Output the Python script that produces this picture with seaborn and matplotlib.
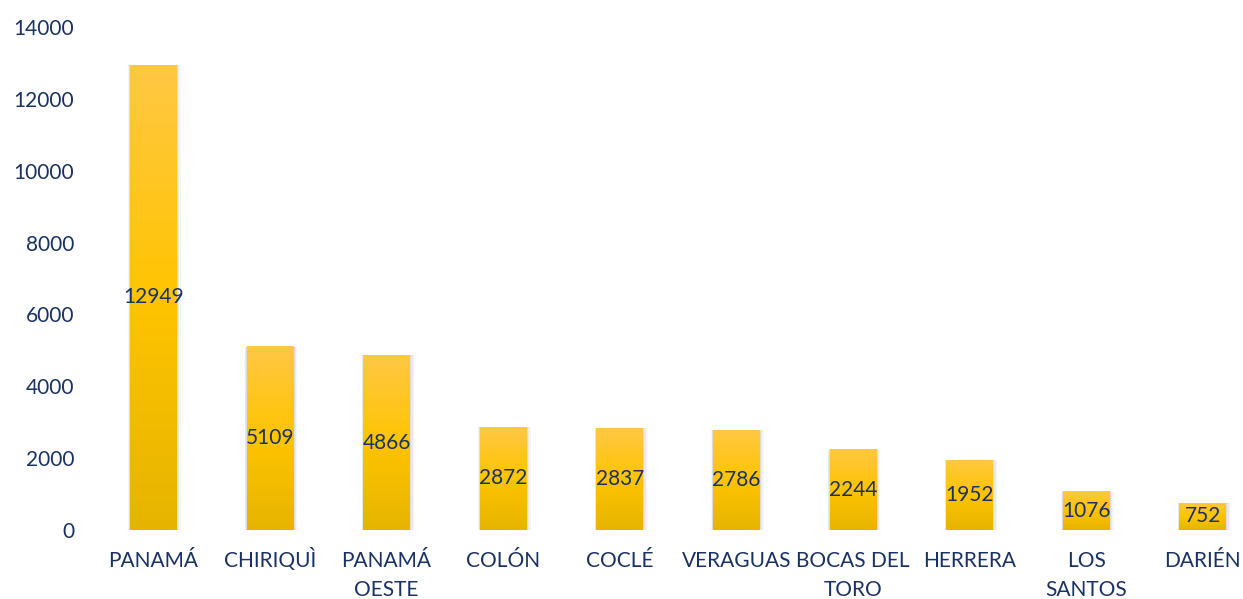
import matplotlib
matplotlib.use("Agg")
import matplotlib.pyplot as plt
import matplotlib.transforms as mtransforms
import numpy as np
import pandas as pd
import seaborn as sns
from matplotlib.patches import Rectangle
from matplotlib.colors import LinearSegmentedColormap

provincias = ["PANAMÁ", "CHIRIQUÌ", "PANAMÁ\nOESTE", "COLÓN", "COCLÉ",
              "VERAGUAS", "BOCAS DEL\nTORO", "HERRERA", "LOS\nSANTOS", "DARIÉN"]
valores = [12949, 5109, 4866, 2872, 2837, 2786, 2244, 1952, 1076, 752]
y_ticks = [0, 2000, 4000, 6000, 8000, 10000, 12000, 14000]

navy = "#1A3263"

sns.set_theme(style="white")
plt.rcParams["font.family"] = ["Lato", "DejaVu Sans"]

df = pd.DataFrame({"provincia": provincias, "valor": valores})

fig = plt.figure(figsize=(12.43, 5.99), dpi=100)
ax = fig.add_axes([95 / 1243, 69 / 599, 1166 / 1243, 503 / 599])

sns.barplot(data=df, x="provincia", y="valor", color="#FFC000",
            width=0.4, ax=ax, zorder=3)

# gradient fill + soft shadow for each bar
cmap = LinearSegmentedColormap.from_list("g", ["#E6B400", "#FFC400", "#FFC845"])
grad = np.linspace(0, 1, 256).reshape(-1, 1)
for bar in ax.patches:
    x0, w, h = bar.get_x(), bar.get_width(), bar.get_height()
    for i, a in enumerate([0.08, 0.07, 0.06]):
        d = 0.012 * (i + 1)
        ax.add_patch(Rectangle((x0 - d * 0.4, -d * 700), w + d * 1.4, h + d * 500,
                               color="#555555", alpha=a, lw=0, zorder=2))
    im = ax.imshow(grad, cmap=cmap, aspect="auto", origin="lower",
                   extent=[x0, x0 + w, 0, h], zorder=4)
    im.set_clip_path(bar)
    bar.set_edgecolor("none")

for i, v in enumerate(valores):
    ax.text(i, v / 2, str(v), ha="center", va="center", fontsize=15,
            color=navy, zorder=5)

ax.set_xlim(-0.5, 9.5)
ax.set_ylim(0, 14000)
ax.set_yticks(y_ticks)
ax.set_yticklabels([str(t) for t in y_ticks])
ax.tick_params(axis="both", colors=navy, labelsize=15, length=0)
ax.tick_params(axis="y", pad=15)
ax.set_xticklabels([])
ax.set_xlabel("")
ax.set_ylabel("")

# category labels, one line at a time so the first lines share a baseline
base = mtransforms.blended_transform_factory(ax.transData, ax.transAxes)
for i, lab in enumerate(provincias):
    for k, line in enumerate(lab.split("\n")):
        tr = mtransforms.offset_copy(base, fig=fig, x=0, y=-(37 + 29 * k) * 0.72,
                                     units="points")
        ax.text(i, 0, line, transform=tr, ha="center", va="baseline",
                fontsize=15, color=navy, clip_on=False)

sns.despine(ax=ax, left=True, bottom=True)
ax.grid(False)

fig.savefig("out.png", dpi=100)
